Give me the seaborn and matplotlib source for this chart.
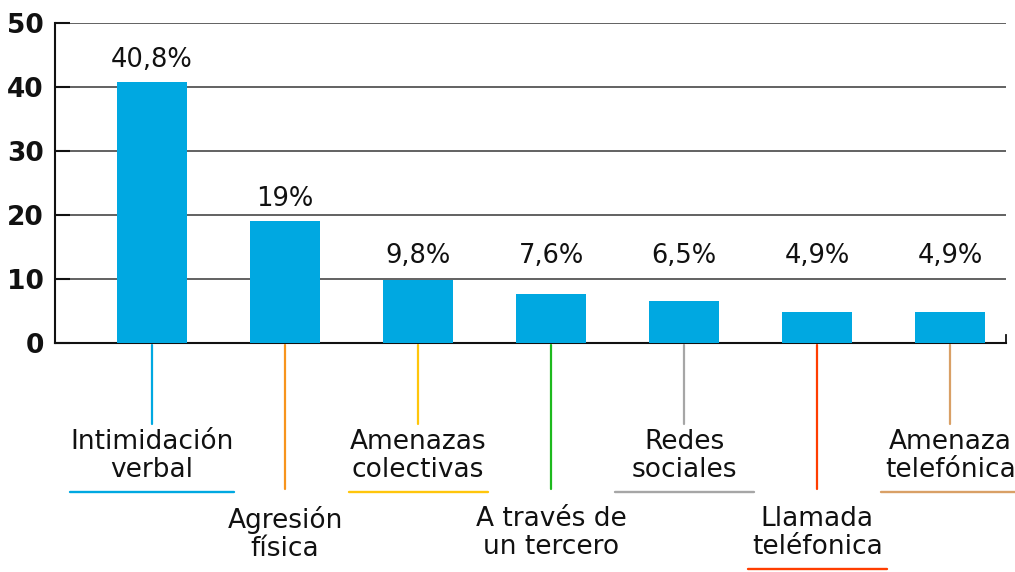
import matplotlib
matplotlib.use("Agg")
import matplotlib.pyplot as plt
import matplotlib.transforms as mtransforms
import pandas as pd
import seaborn as sns

# ----------------------------------------------------------------
# Data
# ----------------------------------------------------------------
categories = ["Intimidación\nverbal", "Agresión\nfísica", "Amenazas\ncolectivas",
              "A través de\nun tercero", "Redes\nsociales", "Llamada\nteléfonica",
              "Amenaza\ntelefónica"]
values = [40.8, 19, 9.8, 7.6, 6.5, 4.9, 4.9]
value_labels = ["40,8%", "19%", "9,8%", "7,6%", "6,5%", "4,9%", "4,9%"]
leader_colors = ["#00A8E1", "#F7941D", "#FFC60B", "#1DB91D", "#A6A6A6", "#FF3D00", "#D9A066"]
label_low = [False, True, False, True, False, True, False]
underlined = [True, False, True, False, True, True, True]
yticks = [0, 10, 20, 30, 40, 50]

BAR = "#00A8E1"
INK = "#111111"

sns.set_theme(style="white")
plt.rcParams["font.family"] = ["DejaVu Sans"]

df = pd.DataFrame({"cat": categories, "val": values})

fig = plt.figure(figsize=(10.15, 5.72), dpi=100)
ax = fig.add_axes([55 / 1015, 1 - 343 / 572, 951 / 1015, 320 / 572])

sns.barplot(data=df, x="cat", y="val", color=BAR, saturation=1, width=0.53,
            linewidth=0, edgecolor=BAR, ax=ax, zorder=3)

ax.set_ylim(0, 50)
ax.set_xlim(-0.73, 6.42)
ax.set_yticks(yticks)
ax.set_yticklabels([str(t) for t in yticks], fontsize=19, fontweight="bold", color=INK)
ax.set_xticks([])
ax.set_xlabel("")
ax.set_ylabel("")
ax.yaxis.grid(True, color="#555555", linewidth=1.3, zorder=0)
ax.set_axisbelow(True)
ax.tick_params(axis="y", direction="in", length=11, width=1.5, color=INK, pad=8, left=True)

ax.spines["top"].set_visible(False)
ax.spines["left"].set_color(INK)
ax.spines["left"].set_linewidth(1.5)
ax.spines["bottom"].set_color(INK)
ax.spines["bottom"].set_linewidth(1.5)
ax.spines["bottom"].set_zorder(2)
ax.spines["right"].set_color(INK)
ax.spines["right"].set_linewidth(1.3)
ax.spines["right"].set_bounds(0, 1.2)

# value labels
for i, (v, lab) in enumerate(zip(values, value_labels)):
    ax.text(i, max(v + 2.4, 12.5), lab, ha="center", va="baseline",
            fontsize=18.5, color=INK, zorder=4)

# leader lines + category labels
trans = mtransforms.blended_transform_factory(ax.transData, ax.transAxes)
texts = []
for i, (cat, col, low) in enumerate(zip(categories, leader_colors, label_low)):
    end = -0.456 if low else -0.253
    ax.plot([i, i], [-0.006, end], color=col, lw=1.6, transform=trans, clip_on=False)
    ty = -0.27 if not low else -0.51
    t = ax.text(i, ty, cat, ha="center", va="top", fontsize=19, color=INK,
                linespacing=1.07, transform=trans)
    texts.append(t)

fig.canvas.draw()
renderer = fig.canvas.get_renderer()
inv = fig.transFigure.inverted()
for t, col, ul in zip(texts, leader_colors, underlined):
    if not ul:
        continue
    bb = t.get_window_extent(renderer)
    w = max(bb.width, 139)
    cx = (bb.x0 + bb.x1) / 2
    y = bb.y0 - 9
    (x0, yy), (x1, _) = inv.transform([(cx - w / 2, y), (cx + w / 2, y)])
    fig.add_artist(plt.Line2D([x0, x1], [yy, yy], color=col, lw=1.7))

fig.savefig("out.png", dpi=100, facecolor="white")
